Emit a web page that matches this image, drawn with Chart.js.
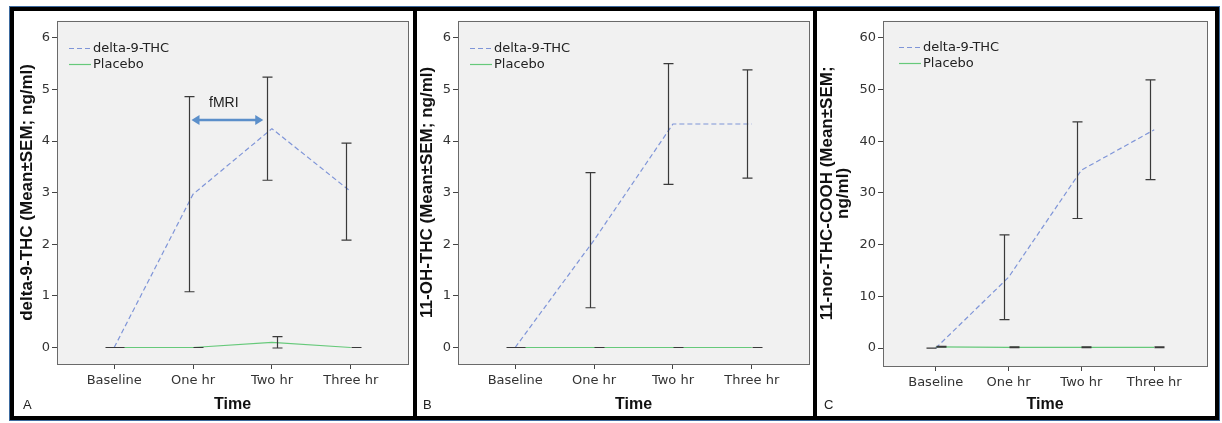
<!DOCTYPE html>
<html><head><meta charset="utf-8">
<script src="https://cdn.jsdelivr.net/npm/chart.js@4.4.1/dist/chart.umd.min.js"></script>
<style>
html,body{margin:0;padding:0;background:#fff;width:1222px;height:423px;overflow:hidden;}
#frame{position:absolute;left:9px;top:6px;width:1211px;height:415px;box-sizing:border-box;border:1px solid #3d6a9e;}
#inner{position:absolute;left:10px;top:7px;width:1209px;height:413px;box-sizing:border-box;border:4px solid #000;}
.sep{position:absolute;top:7px;height:413px;width:4px;background:#000;}
.pan{position:absolute;top:11px;height:405px;}
.lbl{position:absolute;font:13px "Liberation Sans",Arial,sans-serif;color:#222;line-height:13px;}
</style></head>
<body>
<div id="frame"></div><div id="inner"></div>
<div class="sep" style="left:413px"></div><div class="sep" style="left:813px"></div>
<div class="pan" style="left:14px;width:399px"><canvas id="cA"></canvas></div>
<div class="pan" style="left:417px;width:396px"><canvas id="cB"></canvas></div>
<div class="pan" style="left:817px;width:398px"><canvas id="cC"></canvas></div>
<div class="lbl" style="left:23px;top:398px">A</div>
<div class="lbl" style="left:423px;top:398px">B</div>
<div class="lbl" style="left:824px;top:398px">C</div>
<script>
// ---- data ----
const categories = ['Baseline', 'One hr', 'Two hr', 'Three hr'];
const seriesNames = ['delta-9-THC', 'Placebo'];
const thcMeanA = [0, 2.97, 4.24, 3.02];
const thcSemA  = [0, 1.89, 1.00, 0.94];
const plaMeanA = [0, 0, 0.10, 0];
const plaSemA  = [0, 0, 0.11, 0];
const thcMeanB = [0, 2.08, 4.33, 4.33];
const thcSemB  = [0, 1.31, 1.17, 1.05];
const plaMeanB = [0, 0, 0, 0];
const plaSemB  = [0, 0, 0, 0];
const thcMeanC = [0, 13.7, 34.4, 42.2];
const thcSemC  = [0, 8.2, 9.35, 9.65];
const plaMeanC = [0.25, 0.15, 0.15, 0.15];
const plaSemC  = [0.08, 0.08, 0.08, 0.08];
const yTicksAB = [0, 1, 2, 3, 4, 5, 6];
const yTicksC  = [0, 10, 20, 30, 40, 50, 60];
const yTitleA = 'delta-9-THC (Mean±SEM; ng/ml)';
const yTitleB = '11-OH-THC (Mean±SEM; ng/ml)';
const yTitleC = ['11-nor-THC-COOH (Mean±SEM;', 'ng/ml)'];
const xTitle = 'Time';
const fmriLabel = 'fMRI';
const fmriSpan = [0.98, 1.89];   // category units
const fmriLevel = 4.41;           // y units
const fmriLabelAt = [1.39, 4.74];

// ---- styles ----
const THC_COLOR = '#7f95d8';
const PLA_COLOR = '#66c97a';
const TICK_FONT = {family: '"DejaVu Sans", sans-serif', size: 13};
const TITLE_FONT = {family: '"Liberation Sans", Arial, sans-serif', size: 17, weight: 'bold', lineHeight: 1.2};

const panelPlugin = {
  id: 'panel',
  beforeDraw(chart) {
    const a = chart.chartArea, ctx = chart.ctx;
    ctx.save();
    ctx.fillStyle = '#f1f1f1';
    ctx.fillRect(a.left, a.top, a.right - a.left, a.bottom - a.top);
    ctx.restore();
  },
  afterDatasetsDraw(chart) {
    const o = chart.options.plugins.panel;
    const ctx = chart.ctx, xs = chart.scales.x, ys = chart.scales.y, a = chart.chartArea;
    ctx.save();
    // error bars
    const dodge = [-4.5, 5];
    chart.data.datasets.forEach((ds, d) => {
      ds.means.forEach((m, i) => {
        const x = Math.round(xs.getPixelForValue(i) + dodge[d]) + 0.5;
        const yt = ys.getPixelForValue(m + ds.sems[i]);
        const yb = ys.getPixelForValue(m - ds.sems[i]);
        ctx.strokeStyle = '#3a3a3a';
        ctx.lineWidth = 1.2;
        ctx.beginPath();
        ctx.moveTo(x, yt); ctx.lineTo(x, yb);
        ctx.moveTo(x - 5, yt); ctx.lineTo(x + 5, yt);
        ctx.moveTo(x - 5, yb); ctx.lineTo(x + 5, yb);
        ctx.stroke();
      });
    });
    // annotation
    if (o.arrow) {
      const x0 = xs.getPixelForValue(o.arrow.span[0]), x1 = xs.getPixelForValue(o.arrow.span[1]);
      const y = ys.getPixelForValue(o.arrow.level);
      ctx.strokeStyle = '#5b8fca'; ctx.fillStyle = '#5b8fca';
      ctx.lineWidth = 2.5;
      ctx.beginPath(); ctx.moveTo(x0 + 5, y); ctx.lineTo(x1 - 5, y); ctx.stroke();
      ctx.beginPath(); ctx.moveTo(x0, y); ctx.lineTo(x0 + 8, y - 5); ctx.lineTo(x0 + 8, y + 5); ctx.closePath(); ctx.fill();
      ctx.beginPath(); ctx.moveTo(x1, y); ctx.lineTo(x1 - 8, y - 5); ctx.lineTo(x1 - 8, y + 5); ctx.closePath(); ctx.fill();
      ctx.fillStyle = '#222';
      ctx.font = '14px "Liberation Sans", Arial, sans-serif';
      ctx.textAlign = 'center'; ctx.textBaseline = 'middle';
      ctx.fillText(o.arrow.label, xs.getPixelForValue(o.arrow.labelAt[0]), ys.getPixelForValue(o.arrow.labelAt[1]));
    }
    // legend
    const lx = a.left + o.legendDx;
    chart.data.datasets.forEach((ds, d) => {
      const ly = Math.round(a.top + o.legendDy + d * 16.5) + 0.5;
      ctx.strokeStyle = ds.borderColor; ctx.lineWidth = 1.2;
      ctx.setLineDash(ds.borderDash || []);
      ctx.beginPath(); ctx.moveTo(lx, ly); ctx.lineTo(lx + 22, ly); ctx.stroke();
      ctx.setLineDash([]);
      ctx.fillStyle = '#222';
      ctx.font = '13px "DejaVu Sans", sans-serif';
      ctx.textAlign = 'left'; ctx.textBaseline = 'middle';
      ctx.fillText(ds.label, lx + 24, ly);
    });
    // frame
    ctx.strokeStyle = '#6a6a6a'; ctx.lineWidth = 1;
    ctx.strokeRect(Math.round(a.left) + 0.5, Math.round(a.top) + 0.5, Math.round(a.right - a.left), Math.round(a.bottom - a.top));
    ctx.restore();
  }
};

function makeChart(id, p) {
  const toPts = arr => arr.map((v, i) => ({x: i, y: v}));
  return new Chart(document.getElementById(id), {
    type: 'line',
    data: {
      datasets: [
        {label: seriesNames[0], data: toPts(p.thcMean), means: p.thcMean, sems: p.thcSem,
         borderColor: THC_COLOR, borderWidth: 1.2, borderDash: [5, 3], pointRadius: 0, fill: false, tension: 0},
        {label: seriesNames[1], data: toPts(p.plaMean), means: p.plaMean, sems: p.plaSem,
         borderColor: PLA_COLOR, borderWidth: 1.2, pointRadius: 0, fill: false, tension: 0}
      ]
    },
    options: {
      responsive: true, maintainAspectRatio: false, animation: false,
      layout: {padding: {top: p.padTop, right: p.padRight, left: 0, bottom: 0}},
      plugins: {legend: {display: false}, tooltip: {enabled: false},
        panel: {legendDx: p.legendDx, legendDy: p.legendDy, arrow: p.arrow}},
      scales: {
        x: {type: 'linear', min: -0.725, max: categories.length - 1 + 0.725,
          afterBuildTicks: s => { s.ticks = categories.map((c, i) => ({value: i})); },
          afterFit: s => { s.height = p.xH; },
          ticks: {callback: v => categories[v], font: TICK_FONT, color: '#333', padding: 4, maxRotation: 0, autoSkip: false},
          grid: {drawOnChartArea: false, drawTicks: true, tickLength: 5, color: '#444'},
          border: {display: false},
          title: {display: true, text: xTitle, font: {family: '"Liberation Sans", Arial, sans-serif', size: 16, weight: 'bold', lineHeight: 1.2}, color: '#111', padding: {top: 0, bottom: 2}}
        },
        y: {type: 'linear', min: p.yMin, max: p.yMax,
          afterBuildTicks: s => { s.ticks = p.yTicks.map(v => ({value: v})); },
          afterFit: s => { s.width = p.yW; },
          ticks: {font: TICK_FONT, color: '#333', padding: 2},
          grid: {drawOnChartArea: false, drawTicks: true, tickLength: 5, color: '#444'},
          border: {display: false},
          title: {display: true, text: p.yTitle, font: Object.assign({}, TITLE_FONT, p.titleLH ? {lineHeight: p.titleLH} : {}), color: '#111', padding: {top: p.titlePad, bottom: 0}}
        }
      }
    },
    plugins: [panelPlugin]
  });
}

makeChart('cA', {thcMean: thcMeanA, thcSem: thcSemA, plaMean: plaMeanA, plaSem: plaSemA,
  yMin: -0.32, yMax: 6.33, yTicks: yTicksAB, yTitle: yTitleA, yW: 43, xH: 52, padTop: 5, padRight: 5,
  titlePad: 3, legendDx: 12, legendDy: 27,
  arrow: {span: fmriSpan, level: fmriLevel, label: fmriLabel, labelAt: fmriLabelAt}});
makeChart('cB', {thcMean: thcMeanB, thcSem: thcSemB, plaMean: plaMeanB, plaSem: plaSemB,
  yMin: -0.32, yMax: 6.33, yTicks: yTicksAB, yTitle: yTitleB, yW: 41, xH: 52, padTop: 5, padRight: 4,
  titlePad: 0, legendDx: 12, legendDy: 27});
makeChart('cC', {thcMean: thcMeanC, thcSem: thcSemC, plaMean: plaMeanC, plaSem: plaSemC,
  yMin: -3.46, yMax: 63.27, yTicks: yTicksC, yTitle: yTitleC, yW: 66, xH: 50, padTop: 8, padRight: 8,
  titlePad: 3, titleLH: 0.9, legendDx: 16, legendDy: 26});
</script>
</body></html>
